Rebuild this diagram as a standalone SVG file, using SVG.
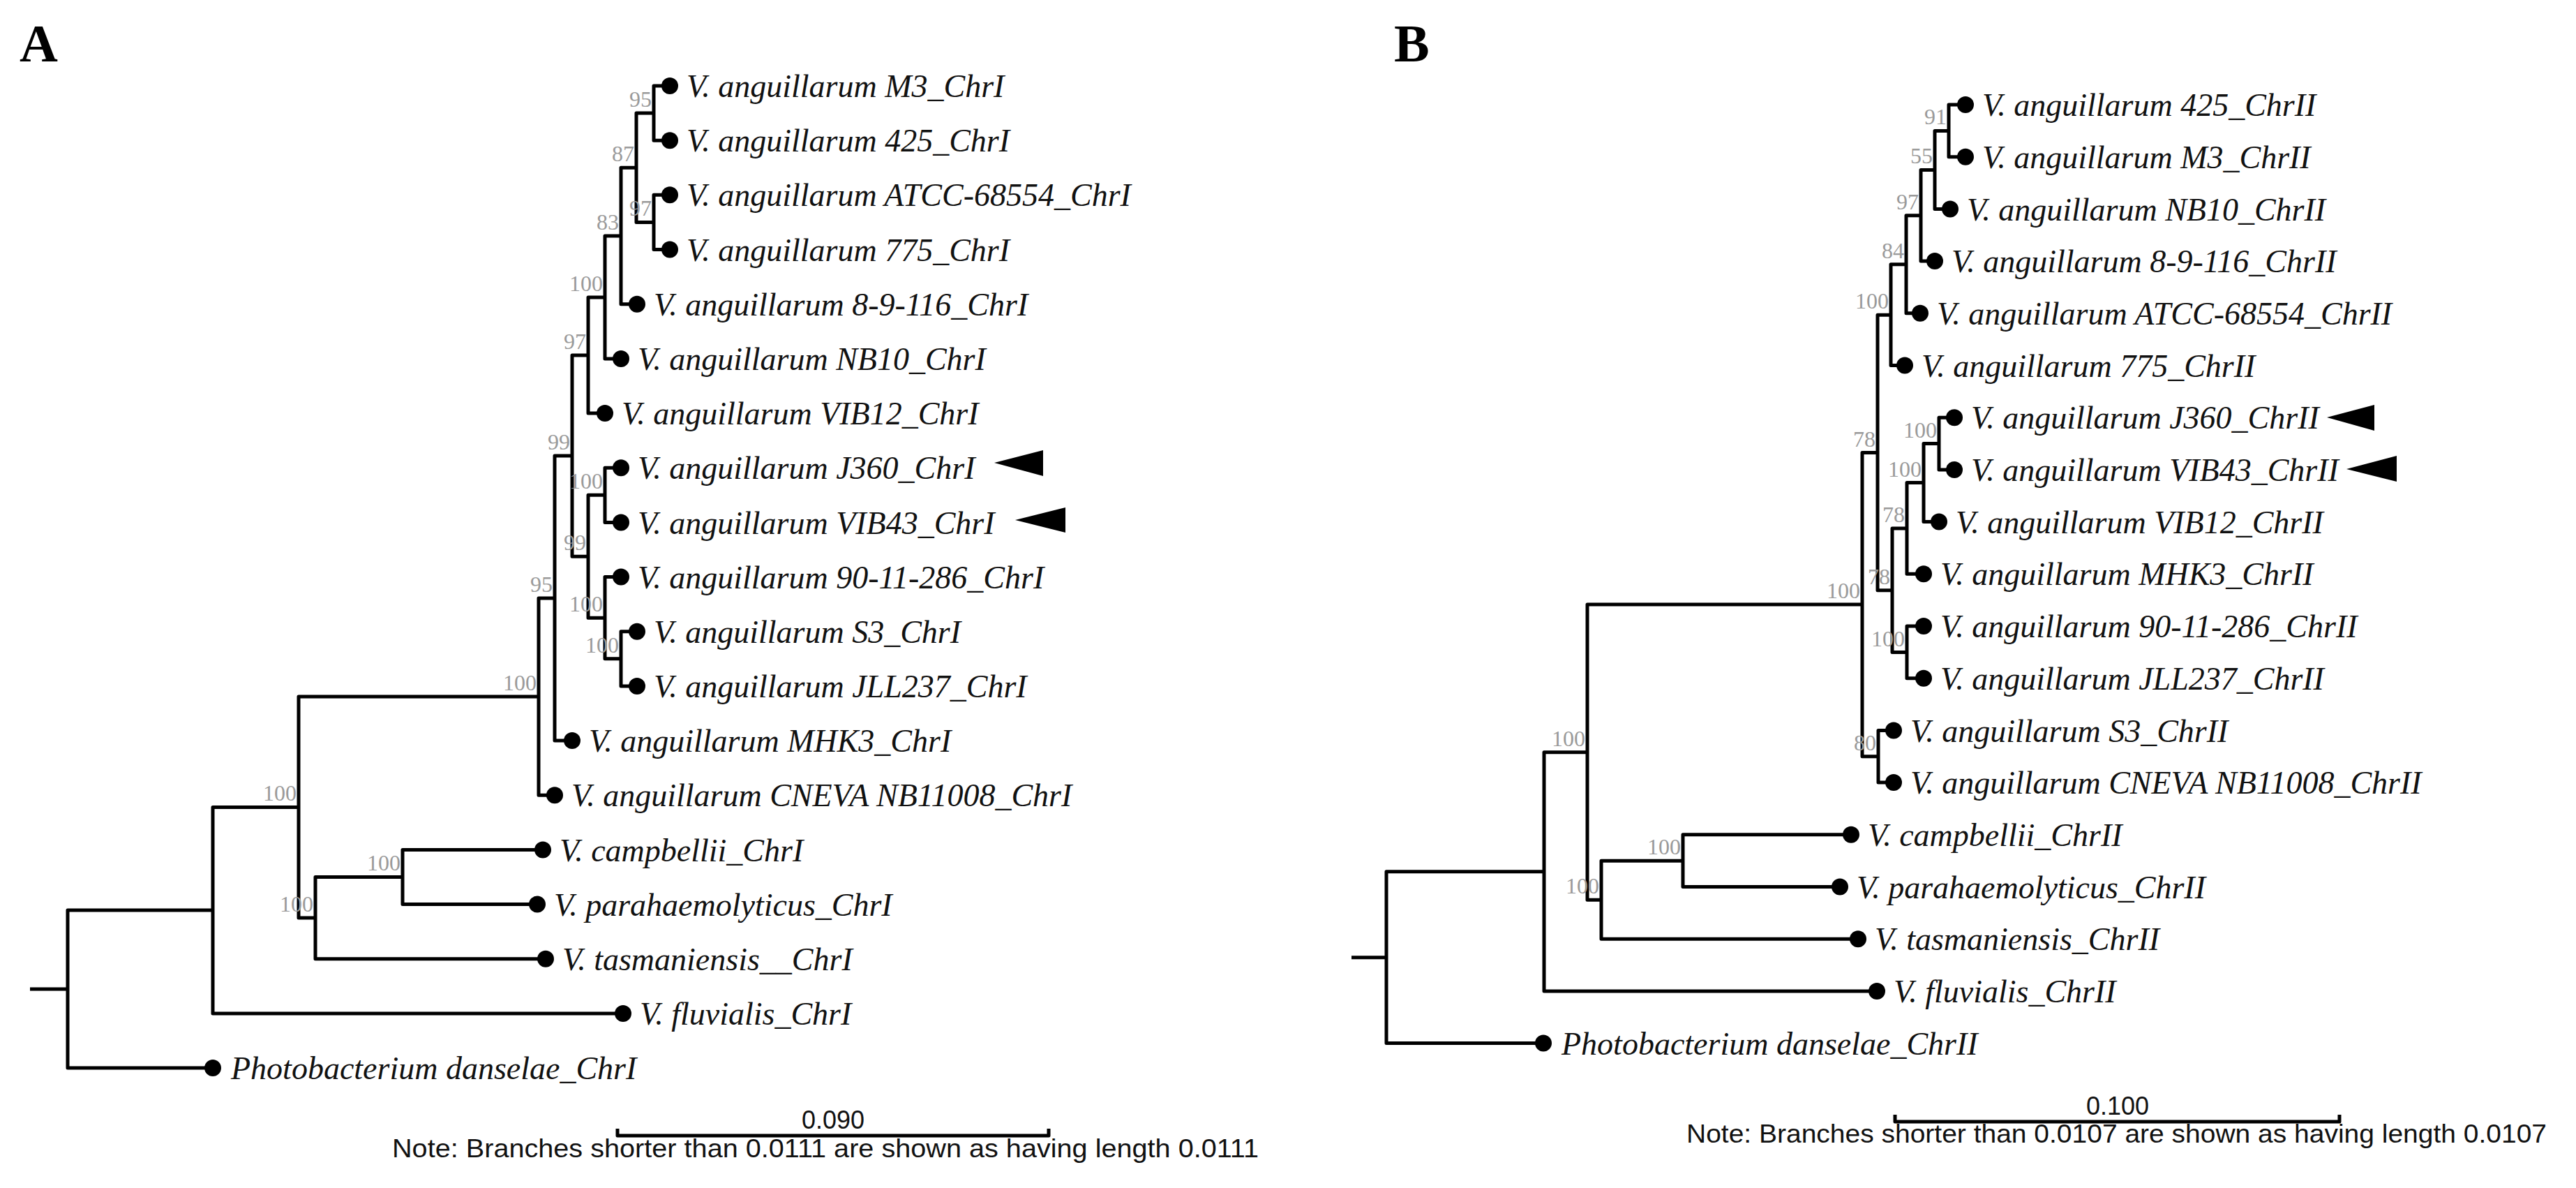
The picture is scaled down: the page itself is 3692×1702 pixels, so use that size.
<svg xmlns="http://www.w3.org/2000/svg" width="3692" height="1702" viewBox="0 0 3692 1702">
<style>
.br{fill:none;stroke:#000;stroke-width:5;stroke-linejoin:round}
.dot{fill:#000}
.tip{font-family:"Liberation Serif","Times New Roman",serif;font-style:italic;font-size:46px;fill:#111}
.bs{font-family:"Liberation Serif","Times New Roman",serif;font-size:32px;fill:#9a9a9a;text-anchor:end}
.panel{font-family:"Liberation Serif","Times New Roman",serif;font-weight:bold;font-size:76px}
.note{font-family:"Liberation Sans",Arial,sans-serif;font-size:36px;fill:#111}
.mark{fill:#000}
</style>
<rect width="3692" height="1702" fill="#fff"/>
<text class="panel" x="28" y="88">A</text>
<text class="panel" x="1998" y="88">B</text>

<g id="connectors-A">
<path class="br" d="M43 1417H97"/>
<path class="br" d="M960 123H937V201.2H960"/>
<path class="br" d="M960 279.3H937V357.5H960"/>
<path class="br" d="M937 162.1H912V318.4H937"/>
<path class="br" d="M912 240.3H890V435.7H913"/>
<path class="br" d="M890 338H867V513.9H890"/>
<path class="br" d="M867 426H843V592H867"/>
<path class="br" d="M890 670.2H867V748.4H890"/>
<path class="br" d="M913 904.7H890V982.9H913"/>
<path class="br" d="M890 826.5H867V943.8H890"/>
<path class="br" d="M867 709.3H843V885.2H867"/>
<path class="br" d="M843 509H820V797.2H843"/>
<path class="br" d="M820 653.1H795V1061H820"/>
<path class="br" d="M795 857H772V1139.2H795"/>
<path class="br" d="M778 1217.4H577V1295.6H770"/>
<path class="br" d="M577 1256.5H452V1373.7H782"/>
<path class="br" d="M772 998H428V1315H452"/>
<path class="br" d="M428 1156.5H305V1451.9H893"/>
<path class="br" d="M305 1304H97V1530H305"/>
</g>
<g id="support-A">
<text class="bs" x="934" y="153">95</text>
<text class="bs" x="934" y="309">97</text>
<text class="bs" x="909" y="231">87</text>
<text class="bs" x="887" y="329">83</text>
<text class="bs" x="864" y="417">100</text>
<text class="bs" x="840" y="500">97</text>
<text class="bs" x="817" y="644">99</text>
<text class="bs" x="864" y="700">100</text>
<text class="bs" x="840" y="788">99</text>
<text class="bs" x="864" y="876">100</text>
<text class="bs" x="887" y="935">100</text>
<text class="bs" x="792" y="848">95</text>
<text class="bs" x="769" y="989">100</text>
<text class="bs" x="574" y="1247">100</text>
<text class="bs" x="449" y="1306">100</text>
<text class="bs" x="425" y="1147">100</text>
</g>
<g id="A-M3"><circle class="dot" cx="960" cy="123" r="12"/><text class="tip" x="984" y="139">V. anguillarum M3_ChrI</text></g>
<g id="A-425"><circle class="dot" cx="960" cy="201.2" r="12"/><text class="tip" x="984" y="217">V. anguillarum 425_ChrI</text></g>
<g id="A-ATCC"><circle class="dot" cx="960" cy="279.3" r="12"/><text class="tip" x="984" y="295">V. anguillarum ATCC-68554_ChrI</text></g>
<g id="A-775"><circle class="dot" cx="960" cy="357.5" r="12"/><text class="tip" x="984" y="374">V. anguillarum 775_ChrI</text></g>
<g id="A-89116"><circle class="dot" cx="913" cy="435.7" r="12"/><text class="tip" x="937" y="452">V. anguillarum 8-9-116_ChrI</text></g>
<g id="A-NB10"><circle class="dot" cx="890" cy="513.9" r="12"/><text class="tip" x="914" y="530">V. anguillarum NB10_ChrI</text></g>
<g id="A-VIB12"><circle class="dot" cx="867" cy="592" r="12"/><text class="tip" x="891" y="608">V. anguillarum VIB12_ChrI</text></g>
<g id="A-J360"><circle class="dot" cx="890" cy="670.2" r="12"/><text class="tip" x="914" y="686">V. anguillarum J360_ChrI</text><polygon class="mark" points="1425,663 1495,645 1495,682"/></g>
<g id="A-VIB43"><circle class="dot" cx="890" cy="748.4" r="12"/><text class="tip" x="914" y="765">V. anguillarum VIB43_ChrI</text><polygon class="mark" points="1455,745 1527,727 1527,763"/></g>
<g id="A-9011286"><circle class="dot" cx="890" cy="826.5" r="12"/><text class="tip" x="914" y="843">V. anguillarum 90-11-286_ChrI</text></g>
<g id="A-S3"><circle class="dot" cx="913" cy="904.7" r="12"/><text class="tip" x="937" y="921">V. anguillarum S3_ChrI</text></g>
<g id="A-JLL237"><circle class="dot" cx="913" cy="982.9" r="12"/><text class="tip" x="937" y="999">V. anguillarum JLL237_ChrI</text></g>
<g id="A-MHK3"><circle class="dot" cx="820" cy="1061" r="12"/><text class="tip" x="844" y="1077">V. anguillarum MHK3_ChrI</text></g>
<g id="A-CNEVA"><circle class="dot" cx="795" cy="1139.2" r="12"/><text class="tip" x="819" y="1155">V. anguillarum CNEVA NB11008_ChrI</text></g>
<g id="A-campbellii"><circle class="dot" cx="778" cy="1217.4" r="12"/><text class="tip" x="802" y="1234">V. campbellii_ChrI</text></g>
<g id="A-para"><circle class="dot" cx="770" cy="1295.6" r="12"/><text class="tip" x="794" y="1312">V. parahaemolyticus_ChrI</text></g>
<g id="A-tasm"><circle class="dot" cx="782" cy="1373.7" r="12"/><text class="tip" x="806" y="1390">V. tasmaniensis__ChrI</text></g>
<g id="A-fluv"><circle class="dot" cx="893" cy="1451.9" r="12"/><text class="tip" x="917" y="1468">V. fluvialis_ChrI</text></g>
<g id="A-photo"><circle class="dot" cx="305" cy="1530" r="12"/><text class="tip" x="331" y="1546">Photobacterium danselae_ChrI</text></g>
<g id="scale-A">
<path class="br" stroke-width="4" d="M885 1617V1627H1503V1617"/>
<text class="note" x="1194" y="1617" text-anchor="middle">0.090</text>
<text class="note" x="562" y="1658" textLength="1242" lengthAdjust="spacingAndGlyphs">Note: Branches shorter than 0.0111 are shown as having length 0.0111</text>
</g>

<g id="connectors-B">
<path class="br" d="M1937 1371.7H1987"/>
<path class="br" d="M2817 150H2793V224.7H2817"/>
<path class="br" d="M2793 187.4H2773V299.4H2795"/>
<path class="br" d="M2773 243.4H2753V374.1H2773"/>
<path class="br" d="M2753 308.8H2732V448.8H2752"/>
<path class="br" d="M2732 378.8H2710V523.5H2730"/>
<path class="br" d="M2801 598.2H2779V672.9H2801"/>
<path class="br" d="M2779 635.6H2757V747.6H2779"/>
<path class="br" d="M2757 691.6H2733V822.3H2757"/>
<path class="br" d="M2757 897H2733V971.7H2757"/>
<path class="br" d="M2733 757H2712V934.4H2733"/>
<path class="br" d="M2710 451.2H2691V845.7H2712"/>
<path class="br" d="M2714 1046.4H2692V1121.1H2714"/>
<path class="br" d="M2691 648.5H2669V1083.8H2692"/>
<path class="br" d="M2653 1195.8H2412V1270.5H2637"/>
<path class="br" d="M2412 1233.2H2295V1345.2H2663"/>
<path class="br" d="M2669 866.1H2275V1289.2H2295"/>
<path class="br" d="M2275 1077.7H2213V1419.9H2690"/>
<path class="br" d="M2213 1248.8H1987V1494.6H2212"/>
</g>
<g id="support-B">
<text class="bs" x="2790" y="178">91</text>
<text class="bs" x="2770" y="234">55</text>
<text class="bs" x="2750" y="300">97</text>
<text class="bs" x="2729" y="370">84</text>
<text class="bs" x="2707" y="442">100</text>
<text class="bs" x="2688" y="640">78</text>
<text class="bs" x="2776" y="627">100</text>
<text class="bs" x="2754" y="683">100</text>
<text class="bs" x="2730" y="748">78</text>
<text class="bs" x="2709" y="837">78</text>
<text class="bs" x="2730" y="926">100</text>
<text class="bs" x="2689" y="1075">80</text>
<text class="bs" x="2666" y="857">100</text>
<text class="bs" x="2409" y="1224">100</text>
<text class="bs" x="2292" y="1280">100</text>
<text class="bs" x="2272" y="1069">100</text>
</g>
<g id="B-425"><circle class="dot" cx="2817" cy="150" r="12"/><text class="tip" x="2841" y="166">V. anguillarum 425_ChrII</text></g>
<g id="B-M3"><circle class="dot" cx="2817" cy="224.7" r="12"/><text class="tip" x="2841" y="241">V. anguillarum M3_ChrII</text></g>
<g id="B-NB10"><circle class="dot" cx="2795" cy="299.4" r="12"/><text class="tip" x="2819" y="316">V. anguillarum NB10_ChrII</text></g>
<g id="B-89116"><circle class="dot" cx="2773" cy="374.1" r="12"/><text class="tip" x="2797" y="390">V. anguillarum 8-9-116_ChrII</text></g>
<g id="B-ATCC"><circle class="dot" cx="2752" cy="448.8" r="12"/><text class="tip" x="2776" y="465">V. anguillarum ATCC-68554_ChrII</text></g>
<g id="B-775"><circle class="dot" cx="2730" cy="523.5" r="12"/><text class="tip" x="2754" y="540">V. anguillarum 775_ChrII</text></g>
<g id="B-J360"><circle class="dot" cx="2801" cy="598.2" r="12"/><text class="tip" x="2825" y="614">V. anguillarum J360_ChrII</text><polygon class="mark" points="3335,598 3403,580 3403,617"/></g>
<g id="B-VIB43"><circle class="dot" cx="2801" cy="672.9" r="12"/><text class="tip" x="2825" y="689">V. anguillarum VIB43_ChrII</text><polygon class="mark" points="3363,672 3435,653 3435,690"/></g>
<g id="B-VIB12"><circle class="dot" cx="2779" cy="747.6" r="12"/><text class="tip" x="2803" y="764">V. anguillarum VIB12_ChrII</text></g>
<g id="B-MHK3"><circle class="dot" cx="2757" cy="822.3" r="12"/><text class="tip" x="2781" y="838">V. anguillarum MHK3_ChrII</text></g>
<g id="B-9011286"><circle class="dot" cx="2757" cy="897" r="12"/><text class="tip" x="2781" y="913">V. anguillarum 90-11-286_ChrII</text></g>
<g id="B-JLL237"><circle class="dot" cx="2757" cy="971.7" r="12"/><text class="tip" x="2781" y="988">V. anguillarum JLL237_ChrII</text></g>
<g id="B-S3"><circle class="dot" cx="2714" cy="1046.4" r="12"/><text class="tip" x="2738" y="1063">V. anguillarum S3_ChrII</text></g>
<g id="B-CNEVA"><circle class="dot" cx="2714" cy="1121.1" r="12"/><text class="tip" x="2738" y="1137">V. anguillarum CNEVA NB11008_ChrII</text></g>
<g id="B-campbellii"><circle class="dot" cx="2653" cy="1195.8" r="12"/><text class="tip" x="2677" y="1212">V. campbellii_ChrII</text></g>
<g id="B-para"><circle class="dot" cx="2637" cy="1270.5" r="12"/><text class="tip" x="2661" y="1287">V. parahaemolyticus_ChrII</text></g>
<g id="B-tasm"><circle class="dot" cx="2663" cy="1345.2" r="12"/><text class="tip" x="2687" y="1361">V. tasmaniensis_ChrII</text></g>
<g id="B-fluv"><circle class="dot" cx="2690" cy="1419.9" r="12"/><text class="tip" x="2714" y="1436">V. fluvialis_ChrII</text></g>
<g id="B-photo"><circle class="dot" cx="2212" cy="1494.6" r="12"/><text class="tip" x="2238" y="1511">Photobacterium danselae_ChrII</text></g>
<g id="scale-B">
<path class="br" stroke-width="4" d="M2716 1597V1607H3353V1597"/>
<text class="note" x="3035" y="1597" text-anchor="middle">0.100</text>
<text class="note" x="2417" y="1637" textLength="1233" lengthAdjust="spacingAndGlyphs">Note: Branches shorter than 0.0107 are shown as having length 0.0107</text>
</g>
</svg>
